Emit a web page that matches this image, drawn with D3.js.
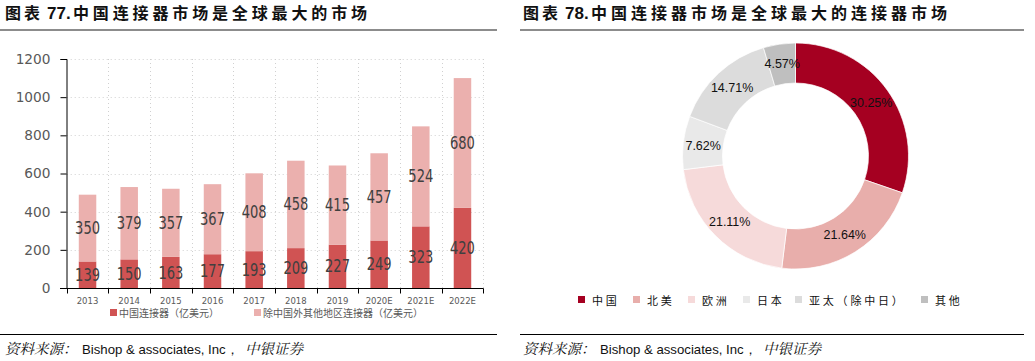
<!DOCTYPE html>
<html><head><meta charset="utf-8">
<script src="https://cdn.jsdelivr.net/npm/d3@7"></script>
<style>
body{margin:0;background:#fff;}
svg{display:block;}
</style></head>
<body>
<svg id="c" width="1035" height="361"></svg>
<script>
const years = ["2013","2014","2015","2016","2017","2018","2019","2020E","2021E","2022E"];
const chinaVals = [139,150,163,177,193,209,227,249,323,420];
const otherVals = [350,379,357,367,408,458,415,457,524,680];
const yTicks = [0,200,400,600,800,1000,1200];
const barLegend = ["中国连接器（亿美元）","除中国外其他地区连接器（亿美元）"];
const regions = ["中国","北美","欧洲","日本","亚太（除中日）","其他"];
const shares = [30.25,21.64,21.11,7.62,14.71,4.57];
const shareLabels = ["30.25%","21.64%","21.11%","7.62%","14.71%","4.57%"];
const pieColors = ["#A50021","#E8AEAB","#F6DADA","#E9E9E9","#DCDCDC","#BFBFBF"];
const barColors = ["#D05353","#EBB0AE"];

const svg = d3.select("#c");
const condFont = "'DejaVu Sans Condensed','DejaVu Sans',sans-serif";
const cjk = "'Noto Sans CJK SC',sans-serif";
const serifCjk = "'Noto Serif CJK SC','Noto Sans CJK SC',serif";

// ---------- titles ----------
function title(x0, num, rest, restStart, restW){
  const t = svg.append("text").attr("y",19).attr("font-weight","bold").attr("fill","#111");
  t.append("tspan").attr("x",x0).attr("font-family",cjk).attr("font-size",16).attr("letter-spacing",3).text("图表");
  t.append("tspan").attr("x",x0+42).attr("font-family","'Liberation Sans',Arial,sans-serif").attr("font-size",17).text(num);
  t.append("tspan").attr("x",restStart).attr("font-family",cjk).attr("font-size",16)
    .attr("textLength",restW).attr("lengthAdjust","spacing").text(rest);
}
title(5,"77.","中国连接器市场是全球最大的市场",73,294);
title(523,"78.","中国连接器市场是全球最大的连接器市场",591,356);
svg.append("line").attr("x1",0).attr("x2",497).attr("y1",30).attr("y2",30).attr("stroke","#8c8c8c").attr("stroke-width",2);
svg.append("line").attr("x1",520).attr("x2",1024).attr("y1",30).attr("y2",30).attr("stroke","#8c8c8c").attr("stroke-width",2);
// footers
svg.append("line").attr("x1",0).attr("x2",497).attr("y1",334.5).attr("y2",334.5).attr("stroke","#000").attr("stroke-width",1);
svg.append("line").attr("x1",520).attr("x2",1024).attr("y1",334.5).attr("y2",334.5).attr("stroke","#000").attr("stroke-width",1);
function footer(x){
  const t = svg.append("text").attr("y",354).attr("fill","#111");
  t.append("tspan").attr("x",x).attr("font-family",serifCjk).attr("font-style","italic").attr("font-size",14.5).text("资料来源：");
  t.append("tspan").attr("x",x+77).attr("font-family","'Liberation Sans',Arial,sans-serif").attr("font-size",13.2).text("Bishop & associates, Inc，");
  t.append("tspan").attr("x",x+240).attr("font-family",serifCjk).attr("font-style","italic").attr("font-size",14.5).text("中银证券");
}
footer(5); footer(523);

// ---------- bar chart ----------
const x = d3.scaleBand().domain(years).range([66.7,483.3]).paddingInner(0.58).paddingOuter(0.29);
const y = d3.scaleLinear().domain([0,1200]).range([288,59]);
const g = svg.append("g");

// grid
g.selectAll(".hg").data(yTicks.filter(d=>d>0)).join("line")
  .attr("x1",66.7).attr("x2",483.3).attr("y1",d=>Math.round(y(d))+0.5).attr("y2",d=>Math.round(y(d))+0.5)
  .attr("stroke","#d0d0d0").attr("stroke-dasharray","1,3");
const bounds = years.map((d,i)=>66.7+i*x.step()).concat([483.3]);
g.selectAll(".vg").data(bounds.slice(1)).join("line")
  .attr("x1",d=>Math.round(d)+0.5).attr("x2",d=>Math.round(d)+0.5).attr("y1",59).attr("y2",288)
  .attr("stroke","#d0d0d0").attr("stroke-dasharray","1,3");

// bars
g.selectAll(".b1").data(years).join("rect")
  .attr("x",d=>x(d)).attr("width",x.bandwidth())
  .attr("y",(d,i)=>y(chinaVals[i])).attr("height",(d,i)=>y(0)-y(chinaVals[i]))
  .attr("fill",barColors[0]);
g.selectAll(".b2").data(years).join("rect")
  .attr("x",d=>x(d)).attr("width",x.bandwidth())
  .attr("y",(d,i)=>y(chinaVals[i]+otherVals[i])).attr("height",(d,i)=>y(chinaVals[i])-y(chinaVals[i]+otherVals[i]))
  .attr("fill",barColors[1]);
// labels (slightly tall, narrow digits)
function lab(cls, yf, vals){
  g.selectAll(cls).data(years).join("text")
    .attr("transform",(d,i)=>`translate(${x(d)+x.bandwidth()/2},${yf(i)}) scale(1,1.16)`)
    .attr("dy","0.36em").attr("text-anchor","middle").attr("font-family",condFont).attr("font-size",14.5)
    .attr("fill","#404040").text((d,i)=>vals[i]);
}
lab(".l1", i=>(y(0)+y(chinaVals[i]))/2, chinaVals);
lab(".l2", i=>(y(chinaVals[i])+y(chinaVals[i]+otherVals[i]))/2, otherVals);

// axes
const yAxis = g.append("g").attr("transform","translate(66.5,0)")
  .call(d3.axisLeft(y).tickValues(yTicks).tickFormat(d3.format("d")).tickSize(6).tickPadding(10));
yAxis.select(".domain").attr("stroke","#000");
yAxis.selectAll(".tick line").attr("stroke","#000");
yAxis.selectAll("text").attr("font-family","'DejaVu Sans',sans-serif").attr("font-size",13.7).attr("fill","#595959");

const xAxis = g.append("g").attr("transform","translate(0,288.5)");
xAxis.append("line").attr("x1",60).attr("x2",483.5).attr("stroke","#000");
xAxis.selectAll(".xt").data(bounds).join("line")
  .attr("x1",d=>Math.round(d)+0.5).attr("x2",d=>Math.round(d)+0.5).attr("y1",0).attr("y2",5).attr("stroke","#000");
xAxis.selectAll(".xl").data(years).join("text")
  .attr("x",d=>x(d)+x.bandwidth()/2).attr("y",15).attr("text-anchor","middle")
  .attr("font-family","'DejaVu Sans',sans-serif").attr("font-size",8.5).attr("fill","#595959").text(d=>d);

// legend
const lg = svg.append("g");
const lx = [110,254];
barLegend.forEach((t,i)=>{
  lg.append("rect").attr("x",lx[i]).attr("y",309).attr("width",7).attr("height",7).attr("fill",barColors[i]);
  lg.append("text").attr("x",lx[i]+9).attr("y",316.5).attr("font-family",cjk).attr("font-size",10)
    .attr("fill","#595959").text(t);
});

// ---------- donut ----------
const cx = 795.5, cy = 156, R = 113, r0 = 73;
const pie = d3.pie().sort(null).value(d=>d)(shares);
const arc = d3.arc().innerRadius(r0).outerRadius(R);
const dg = svg.append("g").attr("transform",`translate(${cx},${cy})`);
dg.selectAll("path").data(pie).join("path").attr("d",arc)
  .attr("fill",(d,i)=>pieColors[i]).attr("stroke","#fff").attr("stroke-width",0.7);
dg.selectAll("text").data(pie).join("text")
  .attr("transform",d=>`translate(${arc.centroid(d)})`).attr("dy","0.36em").attr("text-anchor","middle")
  .attr("font-family","'Liberation Sans',Arial,sans-serif").attr("font-size",12.5).attr("fill","#111")
  .text((d,i)=>shareLabels[i]);

// pie legend
const plx = [578,633,688,743,795,921];
regions.forEach((t,i)=>{
  svg.append("rect").attr("x",plx[i]).attr("y",296).attr("width",7).attr("height",7).attr("fill",pieColors[i]);
  svg.append("text").attr("x",plx[i]+14).attr("y",304.5).attr("font-family",cjk).attr("font-size",11)
    .attr("letter-spacing",2.8).attr("fill","#111").text(t);
});
</script>
</body></html>
